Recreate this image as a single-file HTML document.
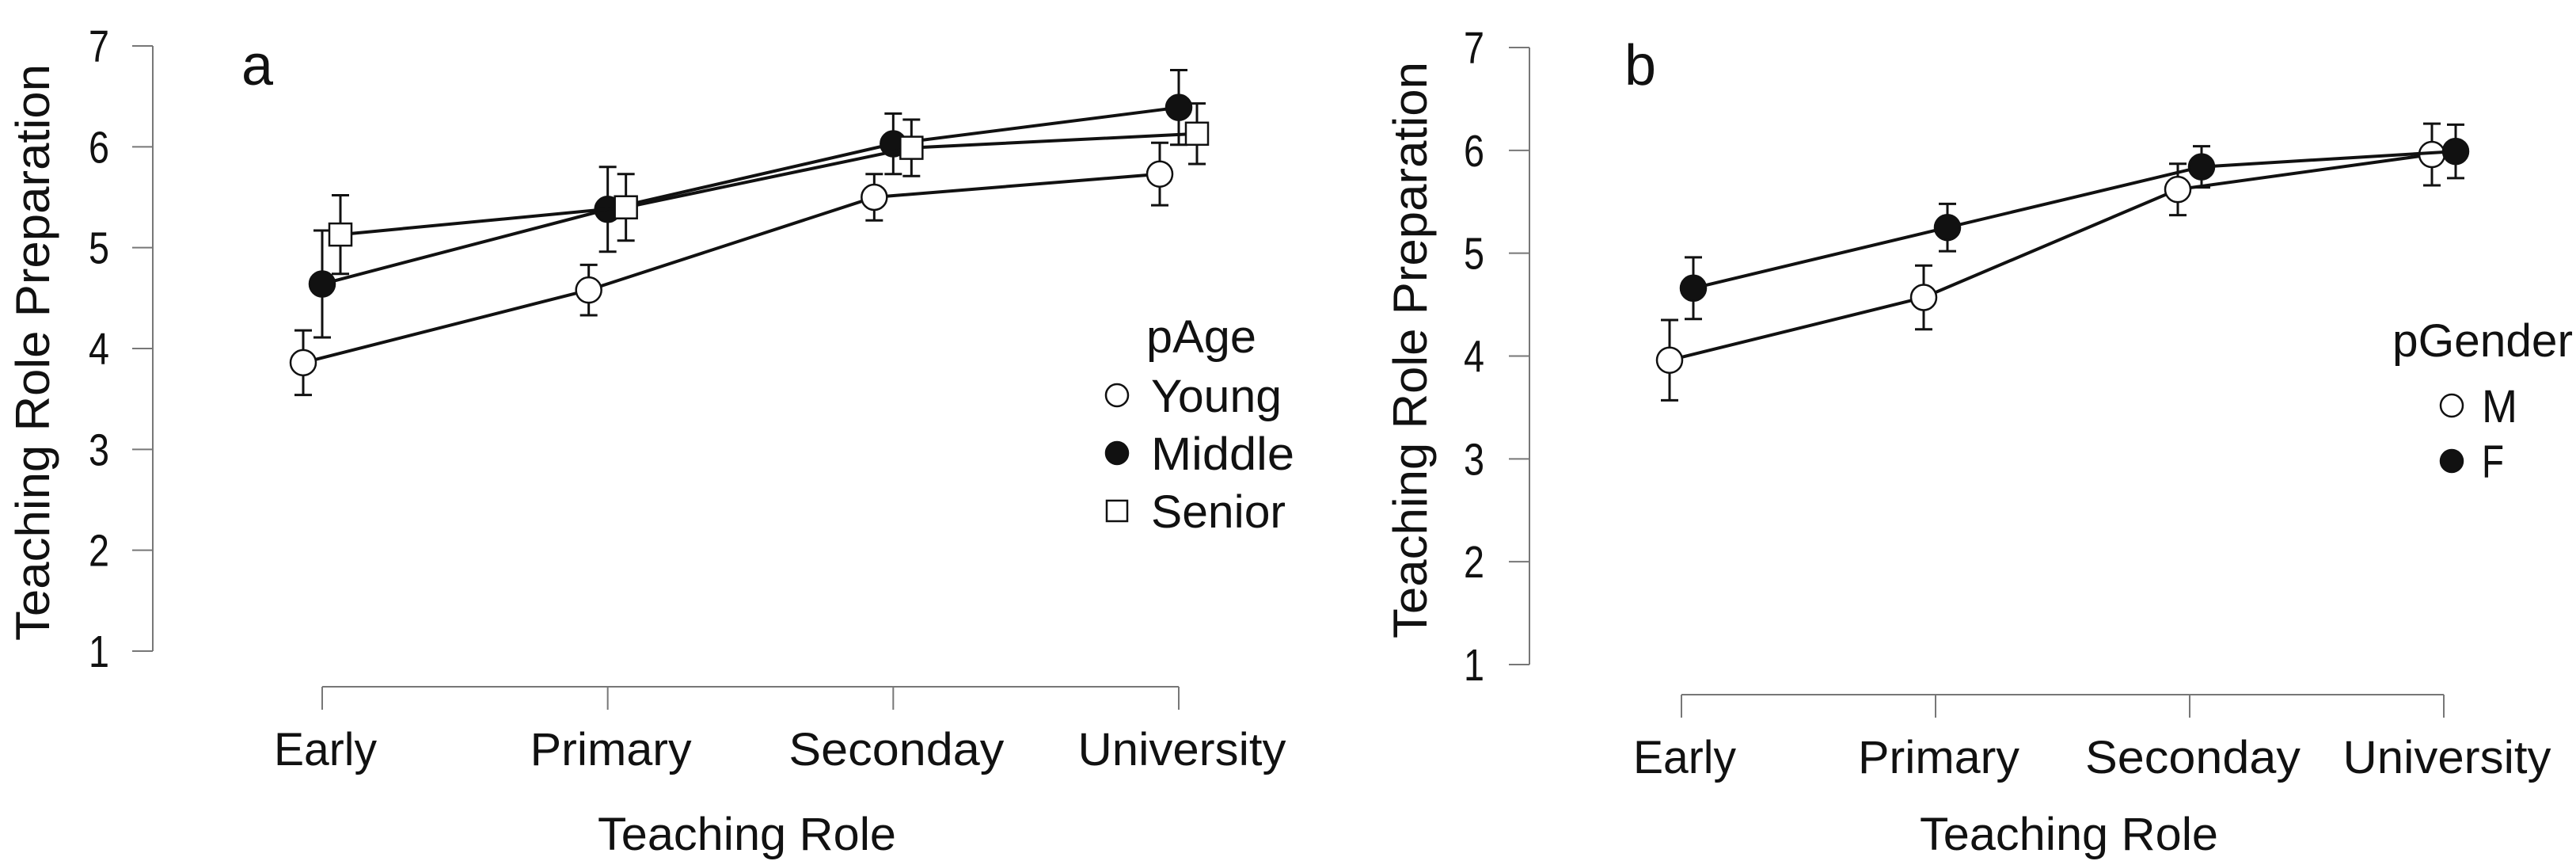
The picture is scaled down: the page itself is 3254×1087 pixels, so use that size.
<!DOCTYPE html>
<html><head><meta charset="utf-8"><style>
html,body{margin:0;padding:0;background:#fff}
svg{display:block}
text{font-family:"Liberation Sans",sans-serif;fill:#111}
</style></head><body>
<svg id="chart" width="3254" height="1087" viewBox="0 0 3254 1087" xmlns="http://www.w3.org/2000/svg">
<g id="pa"></g>
<g id="pb"></g>
</svg>
<script>
const categories = ["Early","Primary","Seconday","University"];
const yTicks = [1,2,3,4,5,6,7];
// panel a
const youngMean = [3.86,4.58,5.50,5.73];
const youngErr = [0.32,0.25,0.23,0.31];
const middleMean = [4.64,5.38,6.03,6.39];
const middleErr = [0.53,0.42,0.30,0.37];
const seniorMean = [5.13,5.40,5.99,6.13];
const seniorErr = [0.39,0.33,0.28,0.30];
// panel b
const maleMean = [3.96,4.57,5.62,5.96];
const maleErr = [0.39,0.31,0.25,0.30];
const femaleMean = [4.66,5.25,5.84,5.99];
const femaleErr = [0.30,0.23,0.20,0.26];

const NS="http://www.w3.org/2000/svg";
const catWidth={"Early":130,"Primary":204,"Seconday":272,"University":263};
const legWidth={"pAge":139,"Young":165,"Middle":181,"Senior":170,"pGender":228,"M":45,"F":28};
function mk(parent,tag,attrs,txt){const e=document.createElementNS(NS,tag);for(const k in attrs)e.setAttribute(k,attrs[k]);if(txt!==undefined)e.textContent=txt;parent.appendChild(e);return e;}

function panel(g,cfg){
  const yS=v=>cfg.y1+(cfg.y7-cfg.y1)*(v-1)/6;
  const xS=i=>cfg.cx0+(cfg.cx3-cfg.cx0)*i/3;
  const ya=mk(g,'line',{x1:cfg.ax,x2:cfg.ax,y1:yS(7),y2:yS(1),stroke:'#777','stroke-width':2});
  
  
  yTicks.forEach(t=>{
    const tl=mk(g,'line',{x1:cfg.ax-26,x2:cfg.ax,y1:yS(t),y2:yS(t),stroke:'#777','stroke-width':2});
    
    
    const tx=mk(g,'text',{x:cfg.tickX-13,y:yS(t)+20,'font-size':57,textLength:26,lengthAdjust:'spacingAndGlyphs'},String(t));
    
    
  });
  const xa=mk(g,'line',{x1:xS(0),x2:xS(3),y1:cfg.xAxisY,y2:cfg.xAxisY,stroke:'#777','stroke-width':2});
  
  
  categories.forEach((c,i)=>{
    const tl=mk(g,'line',{x1:xS(i),x2:xS(i),y1:cfg.xAxisY,y2:cfg.xAxisY+29,stroke:'#777','stroke-width':2});
    
    
    const w=catWidth[c]||c.length*26;
    const tx=mk(g,'text',{x:xS(i)-w/2+4,y:cfg.catY,'font-size':58,textLength:w,lengthAdjust:'spacingAndGlyphs'},c);
    
    
  });
  const xt=mk(g,'text',{x:cfg.xTitleX-188,y:1073,'font-size':58,textLength:377,lengthAdjust:'spacingAndGlyphs'},'Teaching Role');
  
  
  const yt=mk(g,'text',{x:0,y:0,'text-anchor':'middle','font-size':60,textLength:728,lengthAdjust:'spacingAndGlyphs','font-family':'DejaVu Sans, sans-serif',transform:`translate(${cfg.yTitleX},${cfg.yTitleY}) rotate(-90)`},'Teaching Role Preparation');
  
  
  const pl=mk(g,'text',{x:cfg.labelX,y:107,'font-size':72,textLength:40,lengthAdjust:'spacingAndGlyphs'},cfg.label);
  
  

  cfg.series.forEach(s=>{
    const sg=mk(g,'g',{});
    
    
    const pts=s.mean.map((v,i)=>[xS(i)+s.off,yS(v)]);
    const ln=mk(sg,'polyline',{points:pts.map(p=>p.join(',')).join(' '),fill:'none',stroke:'#111','stroke-width':4});
    
    
    s.mean.forEach((v,i)=>{
      const x=xS(i)+s.off, hi=yS(v+s.err[i]), lo=yS(v-s.err[i]);
      const eb=mk(sg,'path',{d:`M${x},${hi}V${lo}M${x-11},${hi}H${x+11}M${x-11},${lo}H${x+11}`,stroke:'#111','stroke-width':3,fill:'none'});
      
      
    });
    s.mean.forEach((v,i)=>{
      const x=xS(i)+s.off, y=yS(v);
      let m;
      if(s.shape==='square') m=mk(sg,'rect',{x:x-14,y:y-14,width:28,height:28,fill:'#fff',stroke:'#111','stroke-width':2.5});
      else m=mk(sg,'circle',{cx:x,cy:y,r:16,fill:s.fill,stroke:'#111','stroke-width':2.5});
      
      
    });
  });
  const lg=mk(g,'g',{});
  
  
  const lt=mk(lg,'text',{x:cfg.legTitleX,y:cfg.legTitleY+21,'font-size':58,textLength:legWidth[cfg.legTitle],lengthAdjust:'spacingAndGlyphs'},cfg.legTitle);
  
  
  cfg.series.forEach((s,k)=>{
    const y=cfg.legY[k], x=cfg.legMarkX;
    let m;
    if(s.shape==='square') m=mk(lg,'rect',{x:x-13,y:y-13,width:26,height:26,fill:'#fff',stroke:'#111','stroke-width':2.5});
    else m=mk(lg,'circle',{cx:x,cy:y,r:14,fill:s.fill,stroke:'#111','stroke-width':2.5});
    
    
    const t=mk(lg,'text',{x:cfg.legTextX,y:y+21,'font-size':58,textLength:legWidth[s.name],lengthAdjust:'spacingAndGlyphs'},s.name);
    
    
  });
}

panel(document.getElementById('pa'),{
  ax:193,y7:58,y1:822,cx0:407,cx3:1489,xAxisY:867,catY:966,tickX:125,
  xTitleX:943,yTitleX:62,yTitleY:445,labelX:305,label:'a',
  legTitle:'pAge',legTitleX:1448,legTitleY:424,legMarkX:1411,legTextX:1454,legY:[499,572,645],
  series:[
    {name:'Young',mean:youngMean,err:youngErr,off:-24,shape:'circle',fill:'#fff'},
    {name:'Middle',mean:middleMean,err:middleErr,off:0,shape:'circle',fill:'#111'},
    {name:'Senior',mean:seniorMean,err:seniorErr,off:23,shape:'square',fill:'#fff'}
  ]
});
panel(document.getElementById('pb'),{
  ax:1932,y7:60,y1:839,cx0:2124,cx3:3087,xAxisY:877,catY:976,tickX:1862,
  xTitleX:2613,yTitleX:1802,yTitleY:442,labelX:2052,label:'b',
  legTitle:'pGender',legTitleX:3022,legTitleY:429,legMarkX:3097,legTextX:3135,legY:[512,582],
  series:[
    {name:'M',mean:maleMean,err:maleErr,off:-15,shape:'circle',fill:'#fff'},
    {name:'F',mean:femaleMean,err:femaleErr,off:15,shape:'circle',fill:'#111'}
  ]
});
</script>
</body></html>
